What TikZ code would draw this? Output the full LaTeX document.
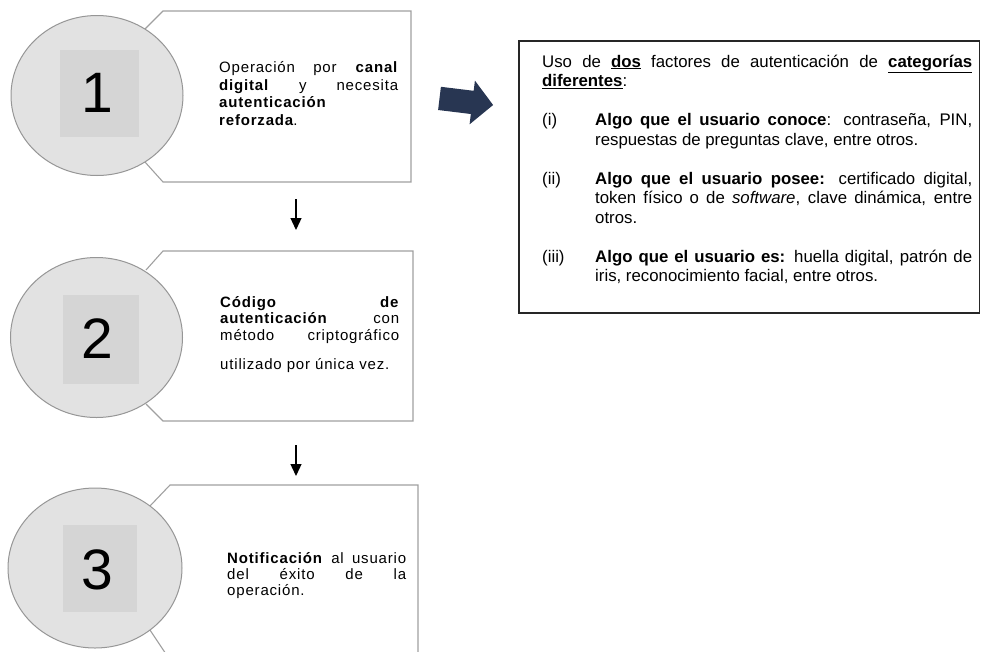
\documentclass[tikz,border=0pt]{standalone}
\usepackage{fontspec}
\setmainfont{Liberation Sans}
\newfontfamily\lfont[LetterSpace=5.5]{Liberation Sans}
\usetikzlibrary{arrows.meta,shapes.geometric}
\definecolor{circfill}{RGB}{226,226,226}
\definecolor{sqfill}{RGB}{213,213,213}
\definecolor{circline}{RGB}{150,150,150}
\definecolor{boxline}{RGB}{160,160,160}
\definecolor{navy}{RGB}{40,54,82}
\tikzset{
  callout/.style={draw=boxline, line width=1.1pt, fill=white, line join=miter},
  disc/.style={ellipse, draw=circline, line width=1pt, fill=circfill, minimum width=172pt, minimum height=160pt, inner sep=0pt},
  sq/.style={fill=sqfill, inner sep=0pt},
  num/.style={font=\fontsize{57}{60}\selectfont, inner sep=0pt},
  ltxt/.style={anchor=base west, inner sep=0pt, font=\lfont\fontsize{15}{17}\selectfont},
  rtxt/.style={anchor=base west, inner sep=0pt, font=\fontsize{16.8}{19}\selectfont},
  darr/.style={-{Triangle[length=12pt,width=11pt]}, line width=1.3pt, black},
  factbox/.style={draw=black!85, line width=1.1pt},
}
\newcommand{\ljust}[1]{\makebox[179pt][s]{#1}}
\newcommand{\rjust}[1]{\makebox[430pt][s]{#1}}
\newcommand{\itjust}[1]{\makebox[377pt][s]{#1}}
\begin{document}
\begin{tikzpicture}[x=1pt,y=-1pt]
\useasboundingbox (0,0) rectangle (981,651);
\clip (0,0) rectangle (981,651);

% ---------- step 1 ----------
\draw[callout] (145,29) -- (163,11) -- (411,11) -- (411,182) -- (163,182) -- (145,162);
\node[disc] (c1) at (97,95.5) {};
\node[sq, minimum width=79pt, minimum height=87pt] (s1) at (99.5,93.5) {};
\node[num] (n1) at (97,93) {1};
\node[ltxt] (t11) at (219,72.5) {\ljust{Operación por \textbf{canal}}};
\node[ltxt] (t12) at (219,90) {\ljust{\textbf{digital} y necesita}};
\node[ltxt] (t13) at (219,107.5) {\textbf{autenticación}};
\node[ltxt] (t14) at (219,125) {\textbf{reforzada}.};

% ---------- step 2 ----------
\draw[callout] (146,270) -- (163,251) -- (413,251) -- (413,421) -- (163,421) -- (146,404);
\node[disc] (c2) at (96.5,337.5) {};
\node[sq, minimum width=76pt, minimum height=89pt] (s2) at (101,339.5) {};
\node[num] (n2) at (97,339) {2};
\node[ltxt] (t21) at (220,307) {\ljust{\textbf{Código} \hfill \textbf{de}}};
\node[ltxt] (t22) at (220,323.5) {\ljust{\textbf{autenticación} \hfill con}};
\node[ltxt] (t23) at (220,340) {\ljust{método \hfill criptográfico}};
\node[ltxt] (t24) at (220,369) {utilizado por única vez.};

% ---------- step 3 ----------
\draw[callout] (150,506) -- (170,485) -- (418,485) -- (418,660) -- (170,660) -- (150,630);
\node[disc, minimum width=174pt] (c3) at (95,568) {};
\node[sq, minimum width=74pt, minimum height=87pt] (s3) at (100,568.5) {};
\node[num] (n3) at (97,570) {3};
\node[ltxt] (t31) at (227,563) {\ljust{\textbf{Notificación} al usuario}};
\node[ltxt] (t32) at (227,579) {\ljust{del éxito de la}};
\node[ltxt] (t33) at (227,595) {operación.};

% ---------- down arrows ----------
\coordinate (a1s) at (296,199);
\coordinate (a1e) at (296,230);
\coordinate (a2s) at (296,445);
\coordinate (a2e) at (296,476);
\draw[darr] (a1s) -- (a1e);
\draw[darr] (a2s) -- (a2e);

% ---------- block arrow ----------
\fill[navy] (440.9,86.8) -- (473.7,90.8) -- (474.9,80.6) -- (493.1,105) -- (469.6,124.3) -- (470.8,114.0) -- (438.1,110.0) -- cycle;

% ---------- factor box ----------
\draw[factbox] (519,41) rectangle (979.5,313);
\node[rtxt] (r1) at (542,67) {\rjust{Uso de \textbf{\underline{dos}} factores de autenticación de \textbf{\underline{categorías}}}};
\node[rtxt] (r2) at (542,86.5) {\textbf{\underline{diferentes}}:};
\node[rtxt] (l1) at (542,125.5) {(i)};
\node[rtxt] (r3) at (595,125.5) {\itjust{\textbf{Algo que el usuario conoce}: contraseña, PIN,}};
\node[rtxt] (r4) at (595,145) {respuestas de preguntas clave, entre otros.};
\node[rtxt] (l2) at (542,184) {(ii)};
\node[rtxt] (r5) at (595,184) {\itjust{\textbf{Algo que el usuario posee:} certificado digital,}};
\node[rtxt] (r6) at (595,203.5) {\itjust{token físico o de \textit{software}, clave dinámica, entre}};
\node[rtxt] (r7) at (595,223) {otros.};
\node[rtxt] (l3) at (542,262) {(iii)};
\node[rtxt] (r8) at (595,262) {\itjust{\textbf{Algo que el usuario es:} huella digital, patrón de}};
\node[rtxt] (r9) at (595,281.5) {iris, reconocimiento facial, entre otros.};
\end{tikzpicture}
\end{document}
